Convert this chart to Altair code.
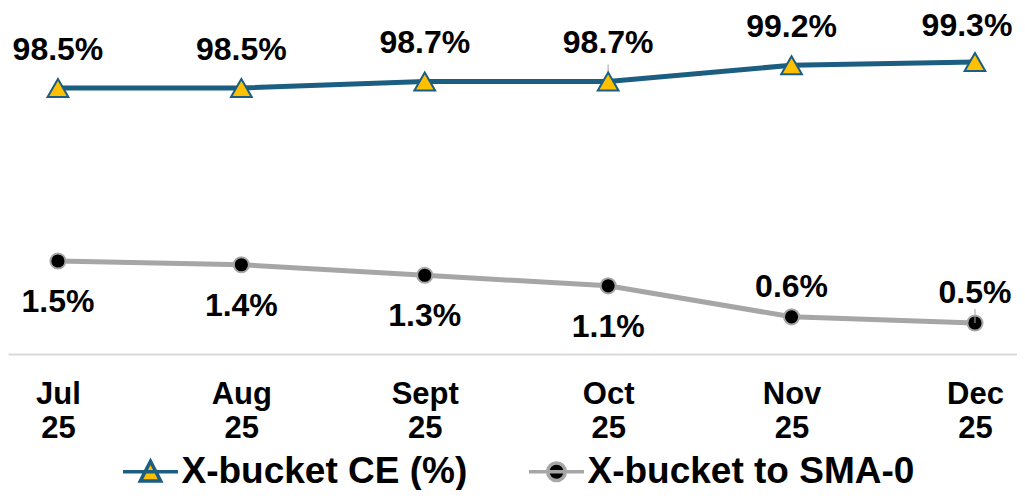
import altair as alt
import pandas as pd

months = ["Jul 25", "Aug 25", "Sept 25", "Oct 25", "Nov 25", "Dec 25"]
ce_values = [98.5, 98.5, 98.7, 98.7, 99.2, 99.3]
ce_labels = ["98.5%", "98.5%", "98.7%", "98.7%", "99.2%", "99.3%"]
sma_values = [1.50, 1.44, 1.27, 1.10, 0.60, 0.50]
sma_labels = ["1.5%", "1.4%", "1.3%", "1.1%", "0.6%", "0.5%"]
sma_label_side = ["below", "below", "below", "below", "above", "above"]
series_names = ["X-bucket CE (%)", "X-bucket to SMA-0"]

BLUE = "#1B5E82"
YELLOW = "#FFC000"
GRAY = "#A6A6A6"
FONT = "Liberation Sans"

ce_df = pd.DataFrame({"month": months, "value": ce_values, "label": ce_labels})
sma_df = pd.DataFrame({"month": months, "value": sma_values, "label": sma_labels,
                       "side": sma_label_side})
legend_df = pd.DataFrame({"series": series_names})

x_enc = alt.X("month:N", sort=months,
              scale=alt.Scale(type="point", padding=0.2508, align=0.543),
              axis=alt.Axis(title=None, labelExpr="split(datum.label, ' ')",
                            labelFont=FONT, labelFontSize=31, labelFontWeight="bold",
                            labelColor="black", labelAngle=0, labelPadding=25,
                            labelLineHeight=34, labelBaseline="top",
                            ticks=False, grid=False, domainColor="#D9D9D9",
                            domainWidth=2))

y_ce = alt.Y("value:Q", scale=alt.Scale(domain=[90.315, 100.777], nice=False, zero=False),
             axis=None)
y_sma = alt.Y("value:Q", scale=alt.Scale(domain=[0, 5.484], nice=False, zero=False),
              axis=None)

text_style = dict(font=FONT, fontSize=32, fontWeight="bold", color="black",
                  baseline="middle")

ce_base = alt.Chart(ce_df).encode(x=x_enc, y=y_ce)
ce_line = ce_base.mark_line(color=BLUE, strokeWidth=5)
ce_pts = ce_base.mark_point(shape="triangle-up", size=430, filled=True, fill=YELLOW,
                            stroke=BLUE, strokeWidth=2, opacity=1)
ce_leader = ce_base.transform_filter(alt.datum.month == "Oct 25").mark_tick(
    orient="vertical", color=GRAY, thickness=1.5, size=16, yOffset=-9)
ce_text = ce_base.transform_filter(alt.datum.month != "Dec 25").mark_text(
    dy=-38, **text_style).encode(text="label:N")
ce_text_last = ce_base.transform_filter(alt.datum.month == "Dec 25").mark_text(
    dy=-36, dx=-8, **text_style).encode(text="label:N")
ce_layer = alt.layer(ce_line, ce_leader, ce_pts, ce_text, ce_text_last)

sma_base = alt.Chart(sma_df).encode(x=x_enc, y=y_sma)
sma_line = sma_base.mark_line(color=GRAY, strokeWidth=5)
sma_pts = sma_base.mark_point(shape="circle", size=230, filled=True, fill="black",
                              stroke=GRAY, strokeWidth=2, opacity=1)
sma_leader = sma_base.transform_filter(alt.datum.month == "Dec 25").mark_tick(
    orient="vertical", color=GRAY, thickness=1.5, size=14, yOffset=-7)
sma_below = sma_base.transform_filter(alt.datum.side == "below").mark_text(
    dy=41, **text_style).encode(text="label:N")
sma_above = sma_base.transform_filter(alt.datum.side == "above").mark_text(
    dy=-30, **text_style).encode(text="label:N")
sma_layer = alt.layer(sma_line, sma_pts, sma_leader, sma_below, sma_above)

tri_path = "M-1,0H1M0,-0.38L0.37,0.34H-0.37Z"
dot_path = ("M-1,0H1M0.32,0A0.32,0.32,0,1,1,-0.32,0"
            "A0.32,0.32,0,1,1,0.32,0Z")
leg = alt.Legend(orient="none", legendX=113, legendY=428, direction="horizontal",
                 title=None, labelFont=FONT, labelFontSize=37, labelFontWeight="bold",
                 labelColor="black", symbolSize=3025, symbolStrokeWidth=3.5,
                 symbolOpacity=1, labelOffset=1.5, columnPadding=54, padding=0,
                 labelLimit=0)
legend_layer = alt.Chart(legend_df).mark_point(
    opacity=0, filled=True, size=3025, strokeWidth=3.5
).encode(
    fill=alt.Fill("series:N", scale=alt.Scale(domain=series_names,
                                              range=[YELLOW, "black"]), legend=leg),
    stroke=alt.Stroke("series:N", scale=alt.Scale(domain=series_names,
                                                  range=[BLUE, GRAY]), legend=leg),
    shape=alt.Shape("series:N", scale=alt.Scale(domain=series_names,
                                                range=[tri_path, dot_path]), legend=leg),
)

chart = alt.layer(ce_layer, sma_layer, legend_layer).resolve_scale(
    y="independent"
).properties(
    width=1009, height=340,
    autosize=alt.AutoSizeParams(type="none"),
    padding={"left": 0, "top": 6, "right": 0, "bottom": 136},
).configure_view(stroke=None)

chart.save("out.html", embed_options={"renderer": "svg", "actions": False})
